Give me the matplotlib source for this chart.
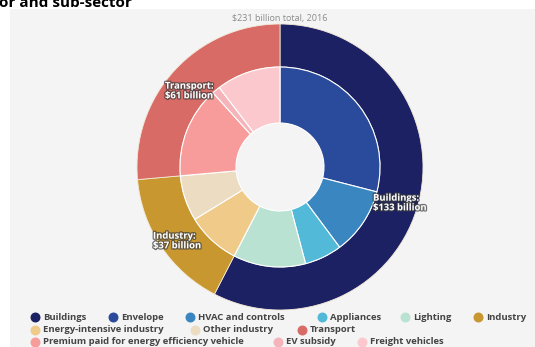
import matplotlib.pyplot as plt
import matplotlib.patheffects as pe
from matplotlib.patches import Rectangle

# Sector totals (outer ring), billion USD, 2016
sectors = ["Buildings", "Industry", "Transport"]
sector_values = [133, 37, 61]
sector_colors = ["#1b2163", "#c8972f", "#d96b67"]

# Sub-sectors (inner ring)
subsectors = ["Envelope", "HVAC and controls", "Appliances", "Lighting",
              "Energy-intensive industry", "Other industry",
              "Premium paid for energy efficiency vehicle", "EV subsidy", "Freight vehicles"]
subsector_values = [67, 25, 14, 27, 20, 17, 34, 3, 24]
subsector_colors = ["#2a4b9b", "#3a86c1", "#52b9d8", "#b9e2d3",
                    "#efca88", "#ecdcc1",
                    "#f89c9b", "#f5b3ba", "#fbc9cd"]

sector_labels = ["Buildings:\n$133 billion", "Industry:\n$37 billion", "Transport:\n$61 billion"]

W, H = 535, 347
fig = plt.figure(figsize=(W / 100, H / 100), dpi=100)
fig.patch.set_facecolor("white")
plt.rcParams['font.family'] = ['Open Sans', 'DejaVu Sans']

ax = fig.add_axes([0, 0, 1, 1])
ax.add_patch(Rectangle((10, 0), W - 10, H - 9, facecolor="#f4f4f4", edgecolor="none", zorder=0))

cx, cy = 280, H - 167
r_out, r_mid, r_hole = 143, 100, 44

ax.pie(sector_values, colors=sector_colors, startangle=90, counterclock=False,
       radius=r_out, center=(cx, cy),
       wedgeprops=dict(width=r_out - r_mid, edgecolor="#f3e9d6", linewidth=0.6))
ax.pie(subsector_values, colors=subsector_colors, startangle=90, counterclock=False,
       radius=r_mid, center=(cx, cy),
       wedgeprops=dict(width=r_mid - r_hole, edgecolor="white", linewidth=0.8))

ax.set_xlim(0, W)
ax.set_ylim(0, H)
ax.set_aspect("equal")
ax.axis("off")

# sector labels on outer ring
label_pos = [(373, H - 203), (153, H - 241), (165, H - 91)]
shadow = [pe.withStroke(linewidth=1.8, foreground="#3a3a3a", alpha=0.7)]
for txt, (x, y) in zip(sector_labels, label_pos):
    ax.text(x, y, txt, color="white", fontsize=6.8, fontweight="bold",
            ha="left", va="center", linespacing=1.1, path_effects=shadow, zorder=5)

ax.text(cx, H - 18, "$231 billion total, 2016", color="#8a8a8a", fontsize=6.5,
        ha="center", va="center", zorder=5)

fig.text(-0.002, 1 - 7 / H, "or and sub-sector", fontsize=11, fontweight="bold",
         color="black", ha="left", va="baseline")

# legend
legend_rows = [
    (317, [(35, 0), (113, 1), (190, 2), (322, 3), (405, 4), (478, 5)]),
    (330, [(35, 6), (195, 7), (302, 8)]),
    (342, [(35, 9), (278, 10), (362, 11)]),
]
legend_names = ["Buildings", "Envelope", "HVAC and controls", "Appliances", "Lighting", "Industry",
                "Energy-intensive industry", "Other industry", "Transport",
                "Premium paid for energy efficiency vehicle", "EV subsidy", "Freight vehicles"]
legend_colors = [sector_colors[0]] + subsector_colors[:4] + [sector_colors[1]] + \
    subsector_colors[4:6] + [sector_colors[2]] + subsector_colors[6:]
for y, items in legend_rows:
    for x, i in items:
        ax.scatter([x], [H - y], s=38, color=legend_colors[i], zorder=5, clip_on=False)
        ax.text(x + 8, H - y, legend_names[i], fontsize=6.8, fontweight="bold",
                color="#444444", ha="left", va="center")

fig.savefig("out.png", dpi=100)
